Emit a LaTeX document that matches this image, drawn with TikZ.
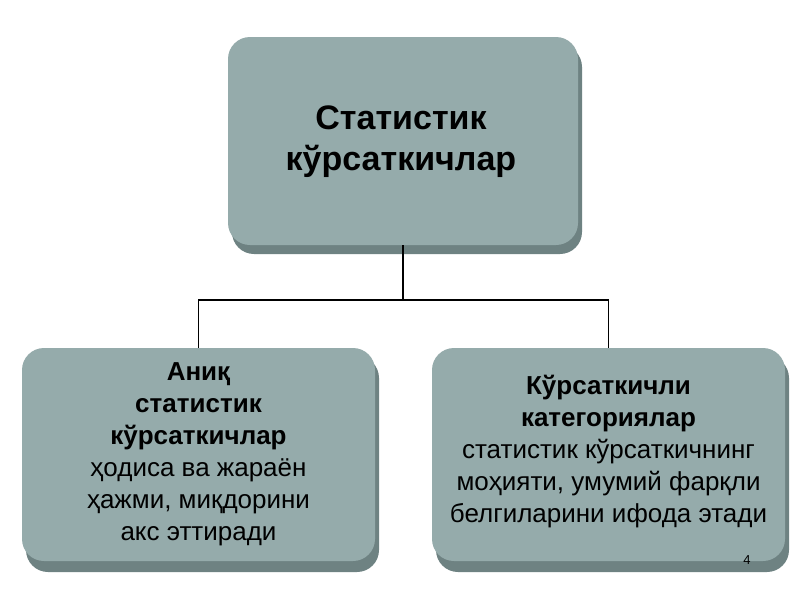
\documentclass[tikz,border=0pt]{standalone}
\usepackage{fontspec}
\setmainfont{Liberation Sans}
\begin{document}
\begin{tikzpicture}[x=1pt,y=-1pt,
  box/.style={draw=none,fill=boxc,rounded corners=22pt,align=center,inner sep=0pt},
  shad/.style={fill=shadc,rounded corners=22pt},
  conn/.style={draw=black,line width=1.6pt}]
\definecolor{boxc}{HTML}{95ABAB}
\definecolor{shadc}{HTML}{6E8282}
\useasboundingbox[fill=white] (0,0) rectangle (800,600);
% shadows
\fill[shad] (232,45) rectangle (582,254);
\fill[shad] (26,356) rectangle (379,572);
\fill[shad] (436,356) rectangle (789,572);
\node[box,minimum width=350pt,minimum height=208pt] (top) at (403,141) {};
\node[box,minimum width=353pt,minimum height=213pt] (left) at (198.5,454.5) {};
\node[box,minimum width=353pt,minimum height=213pt] (right) at (608.5,454.5) {};
\node[align=center,font=\fontsize{34}{41}\selectfont\bfseries] (tt) at (401,142) {Статистик\\кўрсаткичлар};
\node[align=center,font=\fontsize{26}{32}\selectfont] (lt) at (left) {\textbf{Аниқ}\\\textbf{статистик}\\\textbf{кўрсаткичлар}\\ҳодиса ва жараён\\ҳажми, миқдорини\\акс эттиради};
\node[align=center,font=\fontsize{26}{32}\selectfont] (rt) at (608.5,452) {\textbf{Кўрсаткичли}\\\textbf{категориялар}\\статистик кўрсаткичнинг\\моҳияти, умумий фарқли\\белгиларини ифода этади};
\node[font=\fontsize{13}{15}\selectfont] (pg) at (747,560) {4};
\coordinate (j) at (403,300);
\draw[conn] (top.south) -- (j);
\draw[conn] (j) -| (left.north);
\draw[conn] (j) -| (right.north);
\end{tikzpicture}
\end{document}
